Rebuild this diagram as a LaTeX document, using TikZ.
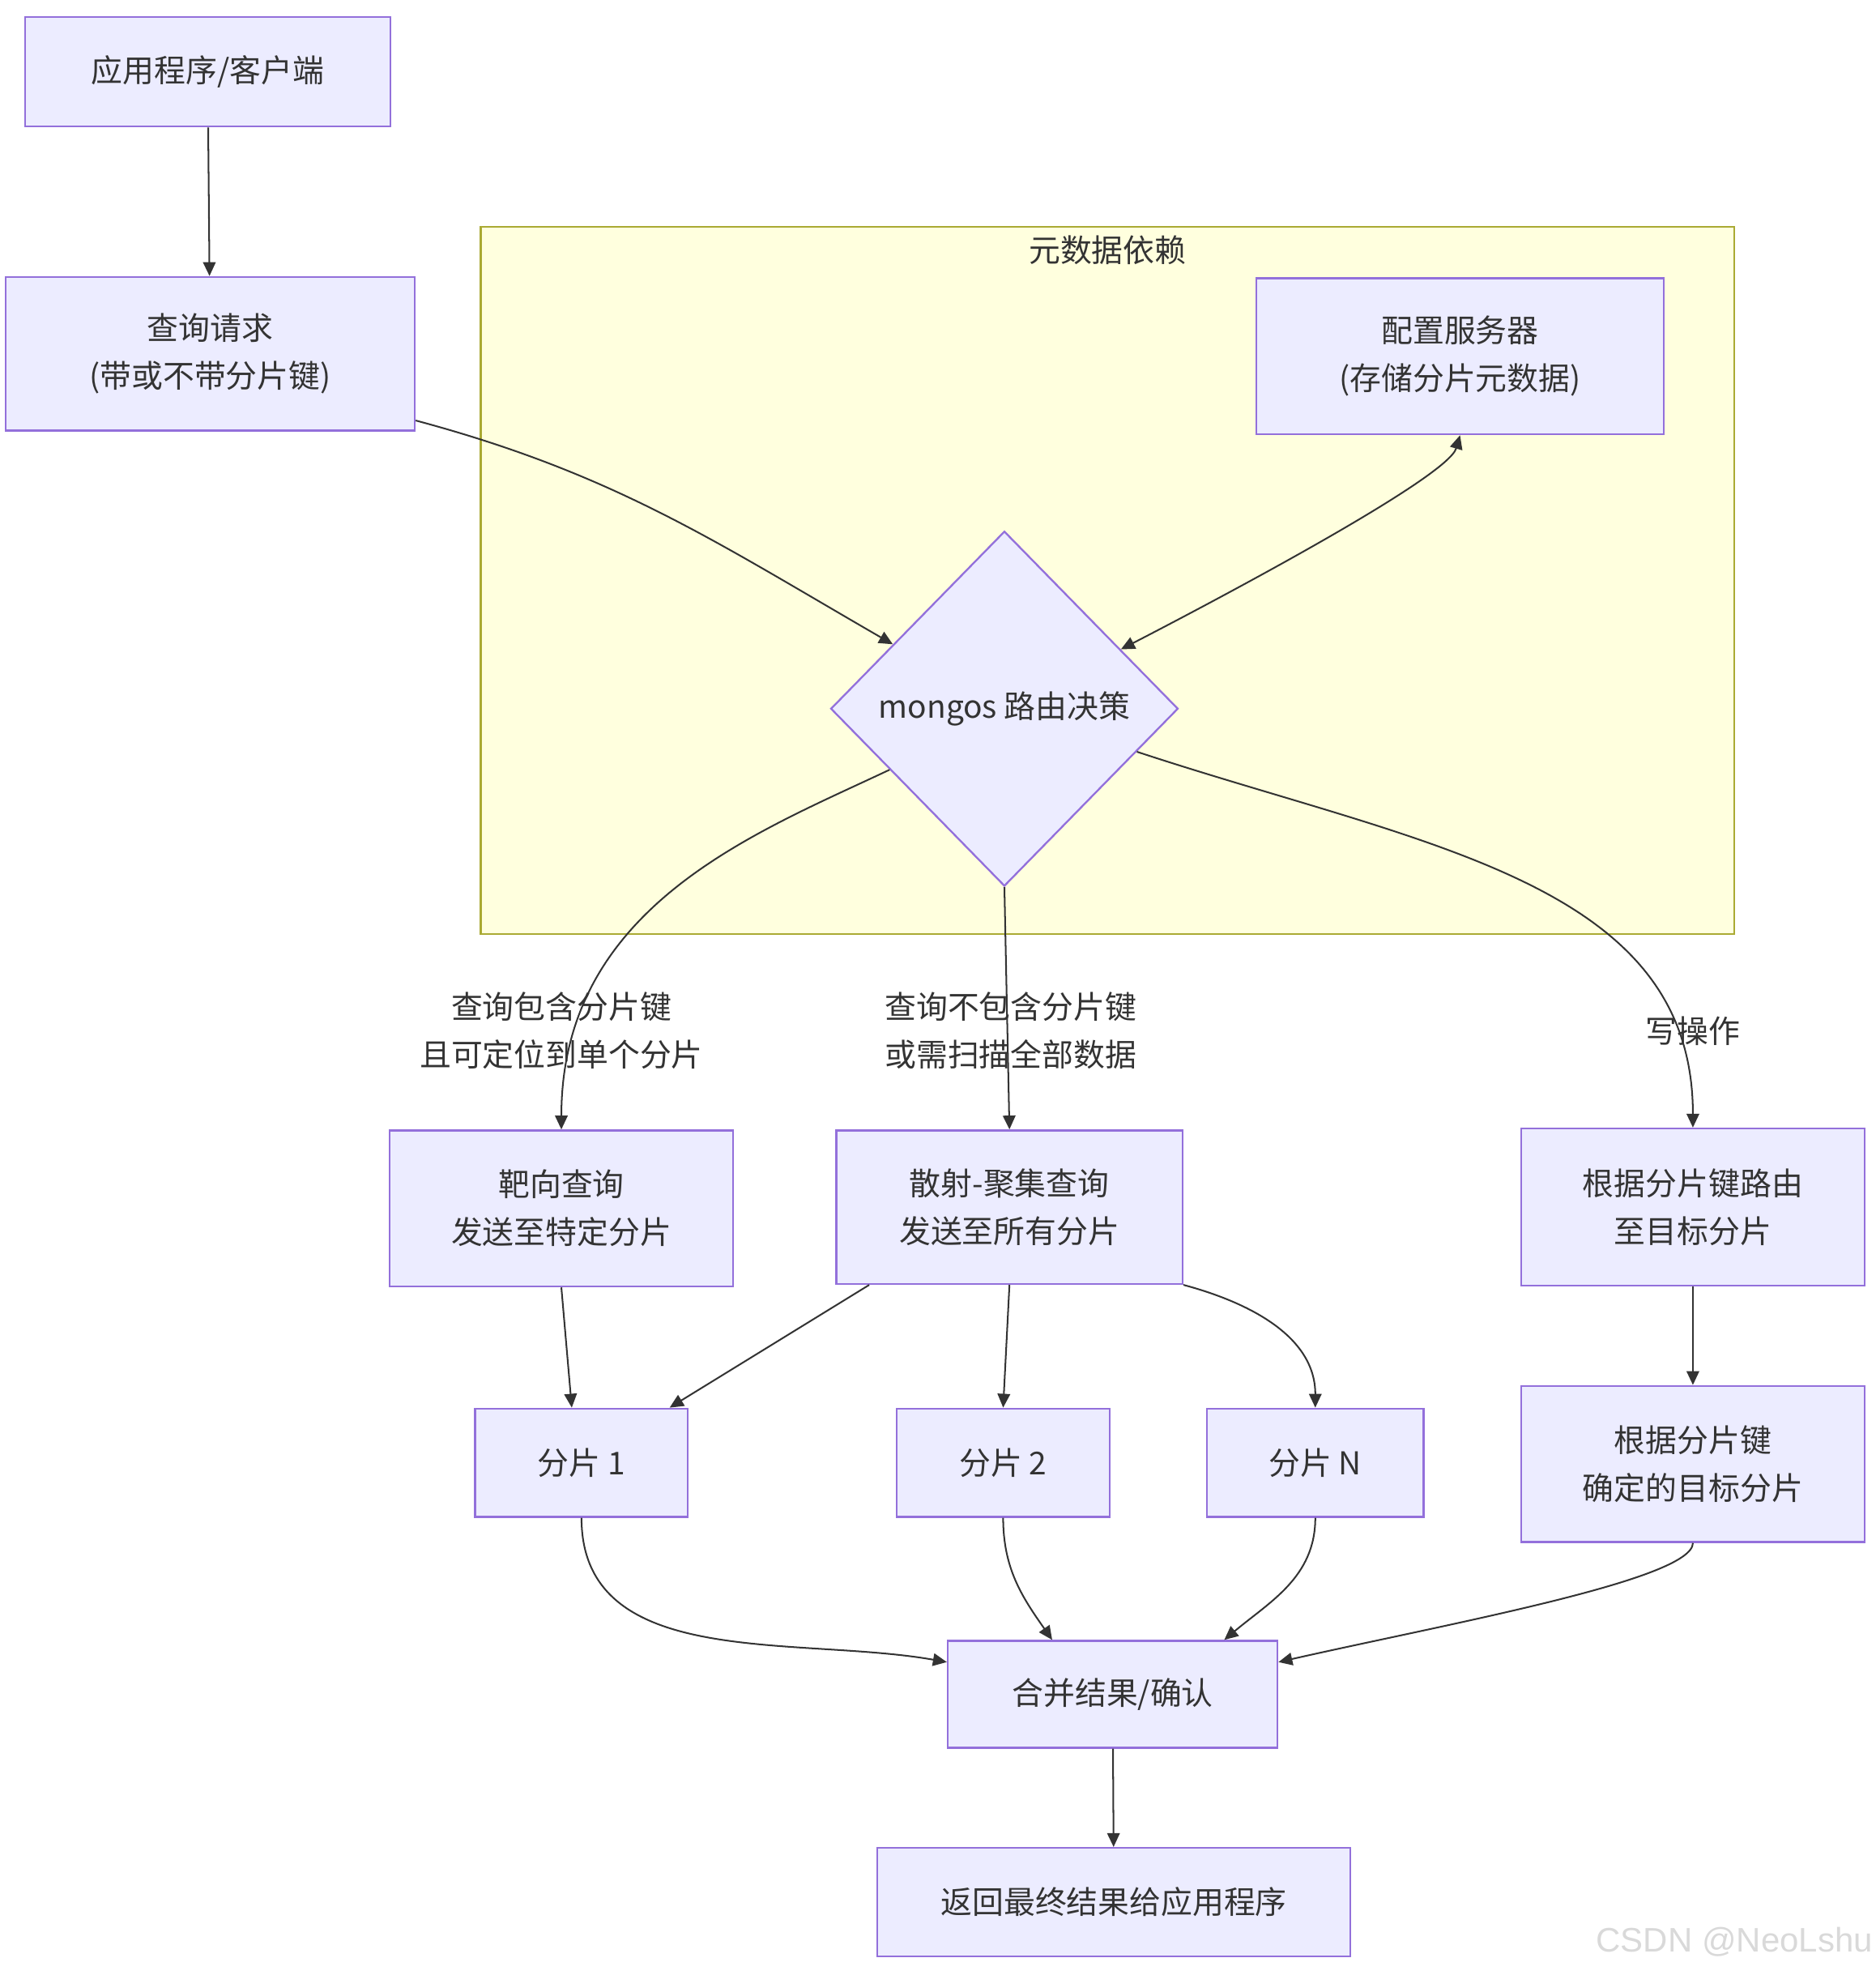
\documentclass[tikz,border=0pt]{standalone}
\usepackage{fontspec}
\usepackage{xcolor}
\usepackage{tikz}
\usetikzlibrary{shapes.geometric,arrows.meta}
\newfontfamily\cjk{Noto Sans CJK SC}
\newfontfamily\wmfont{Liberation Sans}
\definecolor{nodefill}{HTML}{ECECFF}
\definecolor{nodeline}{HTML}{9370DB}
\definecolor{groupfill}{HTML}{FFFFDE}
\definecolor{groupline}{HTML}{AAAA33}
\definecolor{linkcol}{HTML}{333333}

\begin{document}
\begin{tikzpicture}[x=1pt, y=1pt,
	every node/.style={font=\cjk\fontsize{25}{38}\selectfont, text=linkcol},
	box/.style={draw=nodeline, fill=nodefill, line width=1.5pt, align=center, inner sep=0pt},
	decision/.style={draw=nodeline, fill=nodefill, line width=1.5pt, diamond, inner sep=0pt, minimum width=276pt, minimum height=282pt},
	flow/.style={draw=linkcol, line width=1.3pt, -{Triangle[length=11pt, width=10pt]}},
	biflow/.style={flow, {Triangle[length=11pt, width=10pt]}-{Triangle[length=11pt, width=10pt]}},
	lbl/.style={align=center}]
	\useasboundingbox (0,0) rectangle (1490,-1569);
	
	% metadata group
	\draw[draw=groupline, fill=groupfill, line width=1.4pt] (382,-180) rectangle (1378,-742);
	\node (grp) at (880,-199) {元数据依赖};
	
	\node[box, minimum width=290pt, minimum height=87pt] (app) at (165,-57) {应用程序/客户端};
	\node[box, minimum width=325pt, minimum height=122pt] (qry) at (167,-281) {查询请求\\(带或不带分片键)};
	\node[box, minimum width=324pt, minimum height=124pt] (cfg) at (1160,-283) {配置服务器\\(存储分片元数据)};
	\node[decision] (dec) at (798,-563) {mongos 路由决策};
	
	\node[box, minimum width=273pt, minimum height=124pt] (tgt) at (446,-960) {靶向查询\\发送至特定分片};
	\node[box, minimum width=275pt, minimum height=122pt] (sct) at (802,-959) {散射-聚集查询\\发送至所有分片};
	\node[box, minimum width=273pt, minimum height=125pt] (wrt) at (1345,-959) {根据分片键路由\\至目标分片};
	
	\node[box, minimum width=169pt, minimum height=86pt] (sh1) at (462,-1162) {分片 1};
	\node[box, minimum width=169pt, minimum height=86pt] (sh2) at (797,-1162) {分片 2};
	\node[box, minimum width=172pt, minimum height=86pt] (shn) at (1045,-1162) {分片 N};
	\node[box, minimum width=273pt, minimum height=124pt] (dst) at (1345,-1163) {根据分片键\\确定的目标分片};
	
	\node[box, minimum width=262pt, minimum height=85pt] (mrg) at (884,-1346) {合并结果/确认};
	\node[box, minimum width=376pt, minimum height=86pt] (ret) at (885,-1511) {返回最终结果给应用程序};
	
	\draw[flow] (app) -- (qry);
	\draw[flow] (qry.-18) to[out=-15, in=150] (dec.150);
	\draw[biflow] (dec.27) .. controls (960,-480) and (1150,-380) .. (cfg.south);
	\draw[flow] (dec.208) .. controls (600,-662) and (446,-720) .. (tgt.north);
	\draw[flow] (dec.south) -- (sct.north);
	\draw[flow] (dec.-18) .. controls (1130,-672) and (1345,-700) .. (wrt.north);
	
	\draw[flow] (tgt.south) -- (sh1.100);
	\draw[flow] (sct.209) -- (sh1.32);
	\draw[flow] (sct.south) -- (sh2.north);
	\draw[flow] (sct.south east) to[out=-15, in=90] (shn.north);
	\draw[flow] (wrt) -- (dst);
	
	\draw[flow] (sh1.south) to[out=-90, in=170] (mrg.169);
	\draw[flow] (sh2.south) to[out=-90, in=125] (mrg.138);
	\draw[flow] (shn.south) to[out=-90, in=40] (mrg.26);
	\draw[flow] (dst.south) .. controls (1345,-1255) and (1150,-1290) .. (mrg.11);
	\draw[flow] (mrg) -- (ret);
	
	% edge labels
	\node[lbl] (l1) at (446,-819) {查询包含分片键\\且可定位到单个分片};
	\node[lbl] (l2) at (803,-819) {查询不包含分片键\\或需扫描全部数据};
	\node[lbl] (l3) at (1345,-819) {写操作};
	
	\node[font=\wmfont\fontsize{27}{32}\selectfont, text=black!15] (wm) at (1378,-1543) {CSDN @NeoLshu};
\end{tikzpicture}
\end{document}
